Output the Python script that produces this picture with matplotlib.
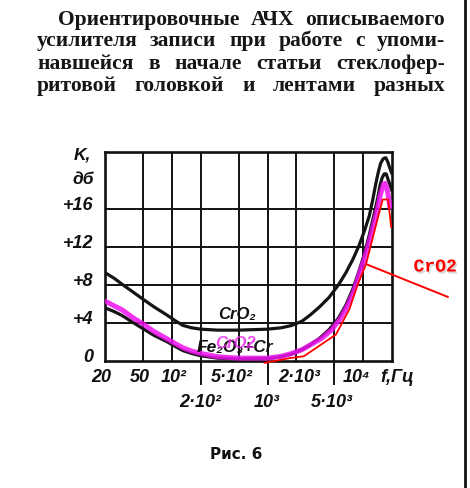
import matplotlib
matplotlib.use('Agg')
import matplotlib.pyplot as plt
import matplotlib.transforms as mtransforms
import matplotlib.patheffects as pe
from matplotlib.lines import Line2D
from matplotlib.ticker import NullLocator

# ---------------- data ----------------
cro2_freq = [20, 25, 30, 40, 50, 65, 90, 110, 130, 160, 200, 300, 500, 1000, 1400, 1800, 2300, 2800,
             3500, 4400, 5500, 6600, 7800, 9000, 10300, 11600, 12600, 13500, 14400, 15200, 16200,
             17200, 18000, 18700, 20000]
cro2_db = [9.3, 8.7, 8.1, 7.2, 6.5, 5.7, 4.8, 4.2, 3.75, 3.5, 3.35, 3.25, 3.25, 3.35, 3.5, 3.75, 4.2, 4.85,
           5.7, 6.7, 8.0, 9.3, 10.7, 12.1, 13.7, 15.3, 17.0, 18.6, 19.9, 20.8, 21.3,
           21.4, 21.0, 20.5, 19.7]

fe_freq = [20, 25, 30, 40, 50, 65, 90, 110, 130, 160, 200, 300, 500, 1000, 1400, 1800, 2300, 2800,
           3500, 4400, 5500, 6600, 7800, 9000, 10300, 11600, 12900, 14200, 15000, 15800, 16600,
           17400, 18200, 19000, 20000]
fe_db = [5.6, 5.2, 4.8, 4.0, 3.4, 2.7, 2.0, 1.5, 1.1, 0.8, 0.55, 0.3, 0.2, 0.25, 0.45, 0.75, 1.2, 1.7,
         2.4, 3.3, 4.5, 5.9, 7.6, 9.4, 11.3, 13.3, 15.3, 17.2, 18.5, 19.3, 19.7,
         19.7, 19.1, 18.6, 17.9]

magenta_freq = [20, 25, 30, 40, 50, 65, 90, 110, 130, 160, 200, 300, 500, 1000, 1400, 1800, 2300, 2800,
                3700, 4700, 5800, 6900, 8000, 9000, 10300, 11600, 12900, 14200, 15200, 16300, 17000,
                17600, 18300, 19000]
magenta_db = [6.3, 5.8, 5.4, 4.5, 3.9, 3.1, 2.3, 1.8, 1.4, 1.05, 0.8, 0.45, 0.3, 0.3, 0.5, 0.8, 1.2, 1.7,
              2.4, 3.3, 4.5, 5.9, 7.4, 9.0, 10.8, 12.6, 14.4, 16.2, 17.6, 18.6, 18.7,
              18.3, 17.4, 16.2]

red_freq = [930, 1700, 2400, 5200, 7200, 8650, 10700, 14000, 16000, 18200, 19600]
red_db = [-0.2, 0.3, 0.5, 2.8, 5.5, 7.9, 10.2, 14.8, 17.0, 17.0, 14.1]

grid_freqs = [50, 100, 200, 500, 1000, 2000, 5000, 10000]
grid_db = [4, 8, 12, 16]

ytick_vals = [0, 4, 8, 12, 16]
ytick_labels = ['0', '+4', '+8', '+12', '+16']

xrow1_vals = [20, 50, 100, 500, 2000, 10000]
xrow1_labels = ['20', '50', '10²', '5·10²', '2·10³', '10⁴']
xrow2_vals = [200, 1000, 5000]
xrow2_labels = ['2·10²', '10³', '5·10³']

label_cro2 = 'CrO₂'
label_fe = 'Fe₂O₃+Cr'
label_hand = 'CrO2'
ylabel_top = 'K,'
ylabel_unit = 'дб'
xlabel = 'f,Гц'
caption = 'Рис. 6'

paragraph = [
    'Ориентировочные АЧХ описываемого',
    'усилителя записи при работе с упоми-',
    'навшейся в начале статьи стеклофер-',
    'ритовой головкой и лентами разных',
]

# ---------------- figure ----------------
W, H = 470, 489
fig = plt.figure(figsize=(W / 100, H / 100), dpi=100)
fig.patch.set_facecolor('white')

def fx(px):
    return px / W

def fy(py):
    return 1 - py / H

ax_left, ax_right, ax_top, ax_bottom = 105, 392, 153, 362
ax = fig.add_axes([fx(ax_left), fy(ax_bottom), (ax_right - ax_left) / W, (ax_bottom - ax_top) / H])
ax.set_xscale('log')
ax.set_xlim(20, 20000)
ax.set_ylim(0, 22)
ax.set_xticks([])
ax.set_yticks([])
ax.xaxis.set_minor_locator(NullLocator())
ax.yaxis.set_minor_locator(NullLocator())
for sp in ax.spines.values():
    sp.set_linewidth(1.9)
    sp.set_color('#111111')

for f in grid_freqs:
    ax.axvline(f, color='#111111', lw=1.4, zorder=1)
for d in grid_db:
    ax.axhline(d, color='#111111', lw=1.4, zorder=1)

line_kw = dict(solid_capstyle='round', solid_joinstyle='round')
ax.plot(cro2_freq, cro2_db, color='#151515', lw=2.3, zorder=3, **line_kw)
ax.plot(fe_freq, fe_db, color='#151515', lw=2.3, zorder=3, **line_kw)
ax.plot(magenta_freq, magenta_db, color='#ee11ee', lw=3.6, alpha=0.85, zorder=4, **line_kw)
ax.plot(red_freq, red_db, color='#ff0000', lw=1.3, zorder=5, clip_on=False)

fam_it = ['Liberation Sans', 'DejaVu Sans']
txt_kw = dict(family=fam_it, style='italic', weight='bold', color='#111111')

# curve labels (placed in axes-fraction coordinates)
ax.text((237 - ax_left) / (ax_right - ax_left), 5.0 / 22, label_cro2, transform=ax.transAxes,
        ha='center', va='center', fontsize=12, zorder=6, **txt_kw)
ax.text((235 - ax_left) / (ax_right - ax_left), 1.5 / 22, label_fe, transform=ax.transAxes,
        ha='center', va='center', fontsize=12.5, zorder=6, **txt_kw)
ax.text((235 - ax_left) / (ax_right - ax_left), 1.9 / 22, label_hand, transform=ax.transAxes,
        ha='center', va='center', fontsize=12, zorder=7,
        family=fam_it, style='italic', weight='bold', color='#ee22ee', alpha=0.8)

# y tick labels
ytr = ax.get_yaxis_transform() + mtransforms.ScaledTranslation(-12 / 100, 4 / 100, fig.dpi_scale_trans)
for v, lab in zip(ytick_vals, ytick_labels):
    ax.text(0, v, lab, transform=ytr, ha='right', va='center', fontsize=13, clip_on=False, **txt_kw)

# x tick labels, two rows
row1_dx = [-4, -3, 2, -7, 3, -7]
row2_dx = [0, -1, -3]
for v, lab, dx in zip(xrow1_vals, xrow1_labels, row1_dx):
    tr = ax.get_xaxis_transform() + mtransforms.ScaledTranslation(dx / 100, -16 / 100, fig.dpi_scale_trans)
    ax.text(v, 0, lab, transform=tr, ha='center', va='center', fontsize=13, clip_on=False, **txt_kw)
for v, lab, dx in zip(xrow2_vals, xrow2_labels, row2_dx):
    tr = ax.get_xaxis_transform() + mtransforms.ScaledTranslation(dx / 100, -41 / 100, fig.dpi_scale_trans)
    ax.text(v, 0, lab, transform=tr, ha='center', va='center', fontsize=13, clip_on=False, **txt_kw)
    ax.plot([v, v], [0, -23 / (ax_bottom - ax_top)], transform=ax.get_xaxis_transform(),
            color='#111111', lw=1.4, clip_on=False)

fig.text(fx(397), fy(378), xlabel, ha='center', va='center', fontsize=13, **txt_kw)
fig.text(fx(82), fy(155), ylabel_top, ha='center', va='center', fontsize=12.5, **txt_kw)
fig.text(fx(83), fy(180), ylabel_unit, ha='center', va='center', fontsize=12.5, **txt_kw)

# red hand-drawn annotation
ann = ax.annotate('', xy=(red_freq[6], red_db[6]), xycoords='data',
                  xytext=(fx(448), fy(298)), textcoords='figure fraction',
                  arrowprops=dict(arrowstyle='-', color='#ff0000', lw=1.4, shrinkA=0, shrinkB=0),
                  annotation_clip=False)
ann.arrow_patch.set_path_effects([pe.SimplePatchShadow(offset=(1.5, -2), shadow_rgbFace='0.5', alpha=0.4), pe.Normal()])
fig.text(fx(435), fy(268), label_hand, ha='center', va='center', fontsize=13, color='#ff0000',
         family=['Liberation Mono', 'DejaVu Sans Mono'], weight='bold',
         path_effects=[pe.withSimplePatchShadow(offset=(1, -1.5), shadow_rgbFace='0.6', alpha=0.4)])

# right page border
fig.add_artist(Line2D([fx(465), fx(465)], [0, 1], color='#111111', lw=2.0))

# caption
fig.text(fx(236), fy(455), caption, ha='center', va='center', fontsize=11, weight='bold',
         family=['DejaVu Sans'], color='#111111')

# justified paragraph
fig.canvas.draw()
renderer = fig.canvas.get_renderer()
baselines = [25, 46, 69, 91]
lefts = [58, 37, 37, 37]
right = 445
par_kw = dict(family=['Liberation Serif', 'DejaVu Serif'], weight='bold', fontsize=15.5,
              color='#161616', va='baseline', ha='left')
for line, yb, x0 in zip(paragraph, baselines, lefts):
    words = line.split(' ')
    texts = [fig.text(0, fy(yb), w, **par_kw) for w in words]
    widths = [t.get_window_extent(renderer).width for t in texts]
    gap = (right - x0 - sum(widths)) / max(len(words) - 1, 1)
    x = x0
    for t, w in zip(texts, widths):
        t.set_x(fx(x))
        x += w + gap

fig.savefig('out.png', dpi=100)
